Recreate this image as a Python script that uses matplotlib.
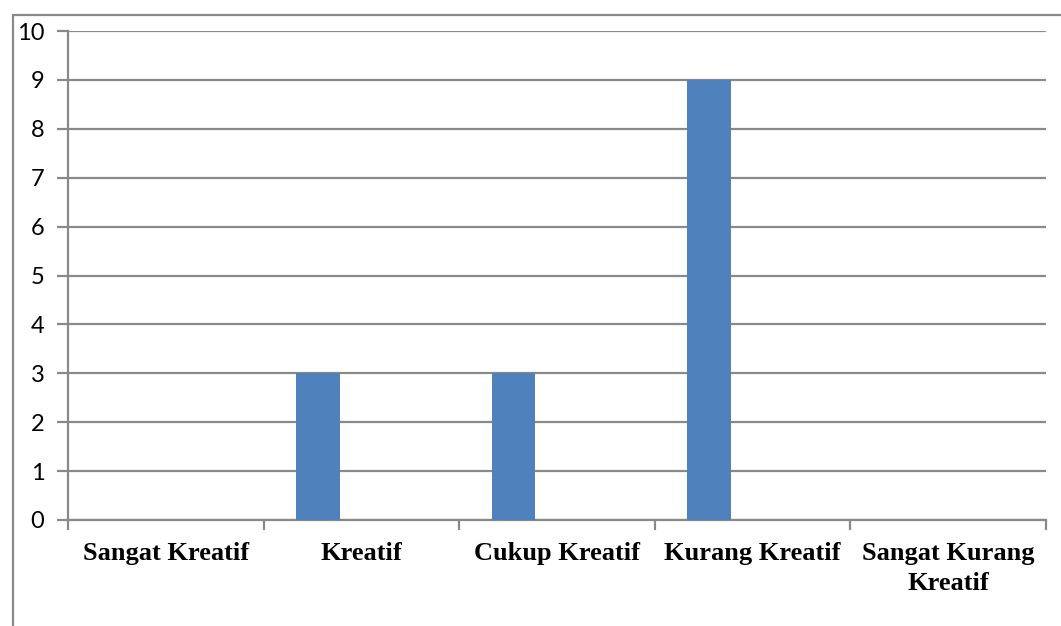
import numpy as np
import matplotlib.pyplot as plt
from matplotlib.patches import Rectangle

kategori = ['Sangat Kreatif', 'Kreatif', 'Cukup Kreatif', 'Kurang Kreatif', 'Sangat Kurang\nKreatif']
nilai = [0, 3, 3, 9, 0]
y_ticks = list(range(0, 11))

warna_bar = '#4F81BD'
abu = '#898989'

fig = plt.figure(figsize=(10.61, 6.26), dpi=100)
ax = fig.add_axes([68 / 1061, 106 / 626, 978 / 1061, 489 / 626])

# excel style: 3 series per kategori, gap 150%, only first series has data
n_seri = 3
lebar = 1 / (n_seri + 1.5)
x = np.arange(len(kategori))
ax.bar(x - lebar, nilai, width=lebar, color=warna_bar, zorder=3)

ax.set_xlim(-0.5, len(kategori) - 0.5)
ax.set_ylim(0, 10)
ax.set_yticks(y_ticks)
ax.set_yticklabels([str(t) for t in y_ticks], family='Lato', fontsize=17)
ax.yaxis.grid(True, color=abu, linewidth=1.6, zorder=0)
ax.tick_params(axis='y', length=8, width=1.6, color=abu, pad=9)

ax.set_xticks(x)
ax.set_xticklabels(kategori, family='Liberation Serif', fontweight='bold', fontsize=19,
                   linespacing=1.35, va='top')
ax.set_xticks(np.arange(-0.5, len(kategori)), minor=True)
ax.tick_params(axis='x', which='major', length=0, pad=16)
ax.tick_params(axis='x', which='minor', length=7, width=1.6, color=abu)

for s in ['top', 'right']:
    ax.spines[s].set_visible(False)
for s in ['left', 'bottom']:
    ax.spines[s].set_color(abu)
    ax.spines[s].set_linewidth(1.6)

# outer chart border (cut off at right and bottom)
fig.patches.append(Rectangle((13 / 1061, -0.1), 1.2, 1.1 - 15 / 626,
                             transform=fig.transFigure, fill=False,
                             edgecolor=abu, linewidth=1.6))

fig.savefig('out.png', dpi=100)
